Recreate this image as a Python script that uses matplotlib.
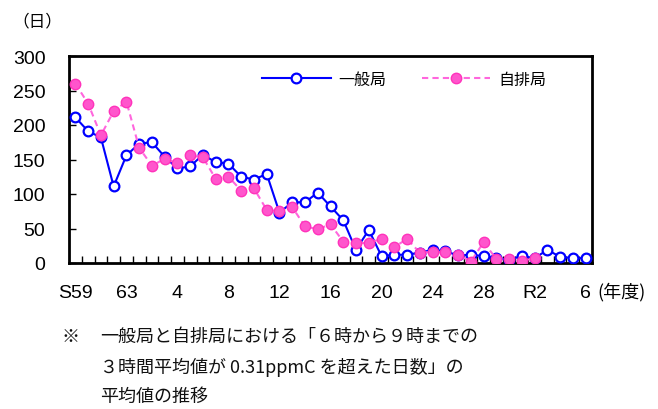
import matplotlib
matplotlib.use("Agg")
import matplotlib.pyplot as plt
from matplotlib.ticker import FixedLocator
import numpy as np

# 年度: S59 (1984) .. R6 (2024)
tick_pos = [0, 4, 8, 12, 16, 20, 24, 28, 32, 36, 40]
tick_labels = ["S59", "63", "4", "8", "12", "16", "20", "24", "28", "R2", "6"]

# 一般局
ippan = [211, 191, 182, 111, 156, 173, 175, 154, 137, 140,
         157, 146, 144, 125, 121, 129, 73, 88, 88, 102,
         82, 62, 19, 48, 10, 12, 12, 15, 19, 17,
         11, 12, 10, 7, 5, 10, 7, 19, 9, 7, 7]
# 自排局 (R2まで)
jihai = [260, 231, 185, 220, 234, 167, 141, 151, 145, 156,
         153, 122, 125, 105, 108, 77, 75, 81, 53, 49,
         56, 31, 29, 29, 35, 23, 35, 15, 16, 16,
         12, 2, 30, 6, 6, 3, 7]

num_font = ["Liberation Sans Narrow", "Liberation Sans", "DejaVu Sans"]
jp_font = ["Noto Sans CJK JP", "DejaVu Sans"]

fig = plt.figure(figsize=(6.58, 4.10), dpi=100)
ax = fig.add_axes([69 / 658, 1 - 264 / 410, 523 / 658, 207 / 410])

x1 = np.arange(len(ippan))
x2 = np.arange(len(jihai))

ax.plot(x1, ippan, color="#0000ff", lw=1.5, marker="o", ms=7,
        mfc="white", mec="#0000ff", mew=1.6, label="一般局", zorder=3)
ax.plot(x2, jihai, color="#ff66dd", lw=1.5, ls=(0, (3, 2)), marker="o", ms=7.5,
        mfc="#ff55cc", mec="#ff33bb", mew=1.0, label="自排局", zorder=4)

ax.set_xlim(-0.5, len(ippan) - 0.5)
ax.set_ylim(0, 300)
ax.set_yticks(range(0, 301, 50))
ax.set_xticks(tick_pos)
ax.set_xticklabels(tick_labels)
ax.xaxis.set_minor_locator(FixedLocator(np.arange(0.5, len(ippan) - 1, 1)))

ax.tick_params(axis="y", direction="in", length=5, width=1, pad=17, labelsize=14)
ax.tick_params(axis="x", which="major", length=0, pad=15, labelsize=14)
ax.tick_params(axis="x", which="minor", direction="in", length=5, width=1)
for lab in ax.get_xticklabels() + ax.get_yticklabels():
    lab.set_family(num_font)

for sp in ax.spines.values():
    sp.set_linewidth(2)
    sp.set_color("black")

leg = ax.legend(loc="center left", bbox_to_anchor=((262 - 69) / 523, (264 - 80) / 207),
                ncol=2, frameon=False, handlelength=4.3, handletextpad=0.5,
                columnspacing=2.2, borderpad=0, borderaxespad=0,
                prop={"family": jp_font, "size": 11.5})

fig.text(12 / 658, 1 - 22 / 410, "（日）", family=jp_font, fontsize=12, va="center")
fig.text(597 / 658, 1 - 292 / 410, "(年度)", family=jp_font, fontsize=13, va="center")

note_lines = [
    (62, 337, "※"),
    (100, 337, "一般局と自排局における「６時から９時までの"),
    (100, 367, "３時間平均値が 0.31ppmC を超えた日数」の"),
    (100, 397, "平均値の推移"),
]
for nx_, ny_, txt in note_lines:
    fig.text(nx_ / 658, 1 - ny_ / 410, txt, family=jp_font, fontsize=13,
             va="center", color="#111111")

fig.savefig("out.png", dpi=100)
